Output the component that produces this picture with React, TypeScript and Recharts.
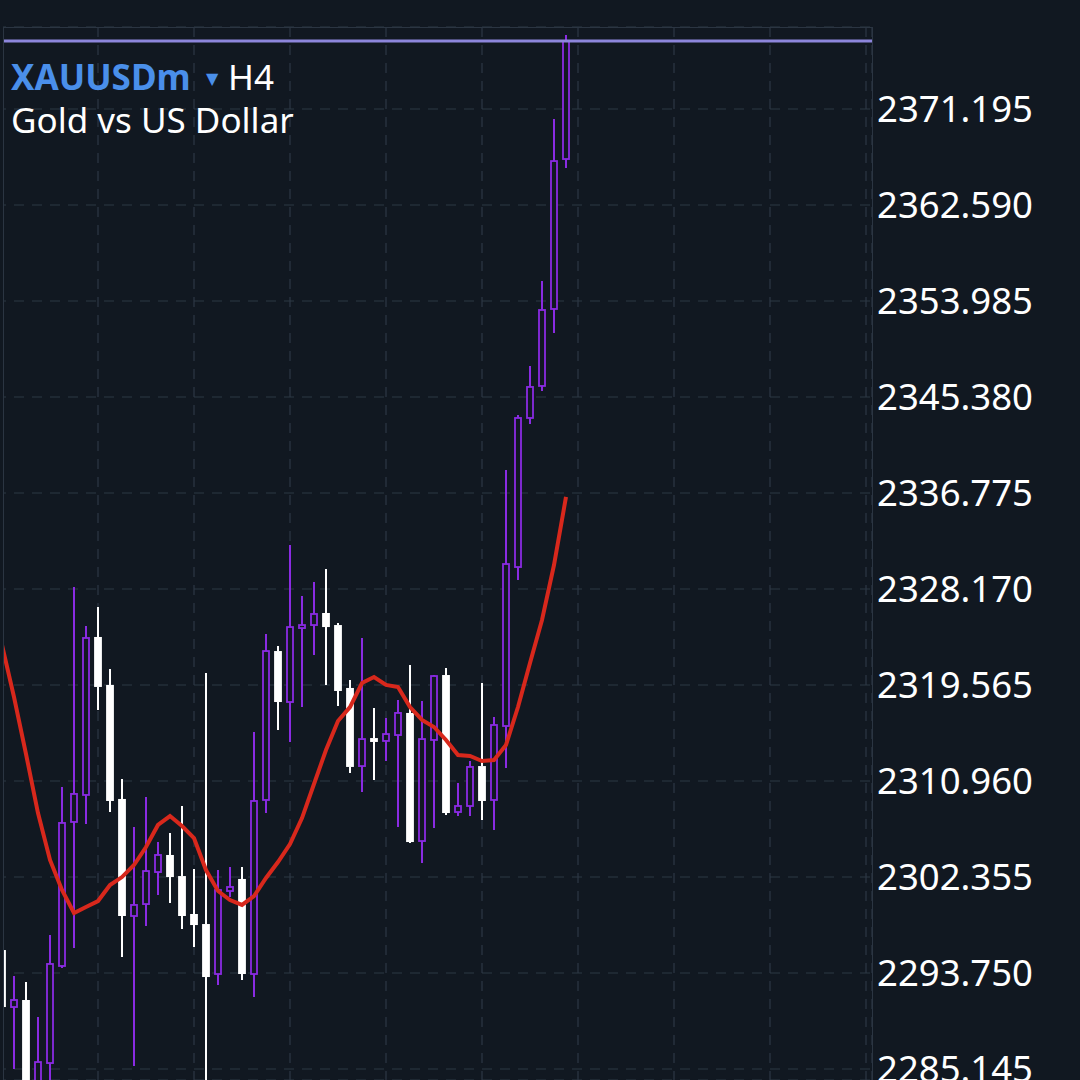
import React from 'react';
import { ComposedChart, Bar, Line, XAxis, YAxis, CartesianGrid, ReferenceLine } from 'recharts';

// Candle values (H4 XAUUSDm)
const opens = [
  2295.81, 2290.70, 2291.33, 2282.60, 2285.68, 2294.38, 2307.29, 2309.71, 2323.87, 2319.57,
  2309.35, 2298.86, 2299.93, 2302.80, 2304.33, 2302.44, 2299.04, 2298.14, 2293.66, 2301.10,
  2302.18, 2293.66, 2309.26, 2322.61, 2318.04, 2324.67, 2324.94, 2326.02, 2324.94, 2319.30,
  2312.30, 2314.81, 2314.55, 2315.08, 2317.06, 2305.58, 2314.64, 2320.46, 2308.18, 2308.72,
  2312.30, 2309.26, 2315.89, 2330.14, 2343.50, 2346.37, 2353.27, 2366.71,
];
const highs = [
  2296.26, 2293.48, 2292.94, 2289.81, 2297.16, 2310.42, 2328.35, 2324.85, 2326.56, 2321.00,
  2311.14, 2306.84, 2309.53, 2305.49, 2306.30, 2308.72, 2303.07, 2320.64, 2302.98, 2303.25,
  2303.25, 2315.35, 2324.14, 2323.06, 2332.11, 2327.54, 2328.80, 2329.96, 2325.12, 2320.01,
  2323.78, 2317.50, 2316.61, 2318.22, 2321.36, 2318.13, 2320.46, 2321.09, 2310.78, 2312.75,
  2319.74, 2316.70, 2338.84, 2343.77, 2348.16, 2355.78, 2370.30, 2377.83,
];
const lows = [
  2289.98, 2285.14, 2282.00, 2281.50, 2283.00, 2294.20, 2295.99, 2307.11, 2317.32, 2308.18,
  2295.18, 2285.41, 2297.96, 2300.74, 2300.02, 2297.69, 2296.08, 2281.00, 2292.67, 2300.56,
  2293.12, 2291.60, 2308.09, 2315.53, 2314.46, 2317.59, 2322.25, 2319.57, 2317.68, 2311.68,
  2309.97, 2311.05, 2312.75, 2306.84, 2305.40, 2303.61, 2306.75, 2307.91, 2307.82, 2307.82,
  2307.46, 2306.57, 2312.13, 2328.98, 2342.96, 2345.92, 2351.12, 2365.91,
];
const closes = [
  2290.70, 2291.33, 2283.50, 2285.77, 2294.56, 2307.20, 2309.80, 2323.78, 2319.39, 2309.17,
  2298.86, 2299.85, 2302.89, 2304.33, 2302.35, 2298.86, 2298.05, 2293.39, 2301.19, 2301.46,
  2293.66, 2309.17, 2322.61, 2318.04, 2324.76, 2324.94, 2325.93, 2324.76, 2319.03, 2312.22,
  2314.72, 2314.46, 2315.17, 2317.06, 2305.49, 2314.72, 2320.37, 2308.09, 2308.72, 2312.22,
  2309.17, 2315.98, 2330.41, 2343.50, 2346.28, 2353.18, 2366.53, 2377.30,
];
// Moving average (red line)
const maValues = [
  2323.15, 2318.49, 2313.38, 2308.09, 2303.88, 2301.19, 2299.13, 2299.67, 2300.20, 2301.64,
  2302.35, 2303.43, 2305.04, 2307.02, 2307.82, 2306.93, 2305.85, 2302.98, 2301.10, 2300.29,
  2299.85, 2300.65, 2302.27, 2303.70, 2305.31, 2307.64, 2310.69, 2313.74, 2316.34, 2317.59,
  2319.74, 2320.28, 2319.57, 2319.39, 2317.59, 2316.43, 2315.80, 2314.64, 2313.29, 2313.20,
  2312.75, 2312.84, 2314.19, 2317.59, 2321.54, 2325.39, 2330.32, 2336.42,
];
const yTicks = [
  2285.145, 2293.75, 2302.355, 2310.96, 2319.565, 2328.17, 2336.775, 2345.38, 2353.985, 2362.59, 2371.195,
];
const currentPrice = 2377.3;
const totalSlots = 73;
const gridSlots = [0, 8, 16, 24, 32, 40, 48, 56, 64, 72];
const priceDomain: [number, number] = [2284.16, 2378.545];

const BG = '#111821';
const BULL = '#8A2BE2';
const BEAR = '#ffffff';

const data = Array.from({ length: totalSlots }, (_, i) =>
  i < opens.length
    ? {
        i,
        range: [lows[i], highs[i]],
        open: opens[i],
        high: highs[i],
        low: lows[i],
        close: closes[i],
        ma: maValues[i],
      }
    : { i, range: null, ma: null }
);

const Candle = (props: any) => {
  const { x, y, width, height, payload } = props;
  if (!payload || payload.high == null || height == null) return null;
  const top = Math.min(y, y + height);
  const bot = Math.max(y, y + height);
  const span = payload.high - payload.low;
  const ppu = span > 0 ? (bot - top) / span : 0;
  const yOf = (v: number) => top + (payload.high - v) * ppu;
  const cx = x + width / 2;
  const bull = payload.close >= payload.open;
  const bodyTop = yOf(Math.max(payload.open, payload.close));
  const bodyBot = yOf(Math.min(payload.open, payload.close));
  const color = bull ? BULL : BEAR;
  return (
    <g>
      <line x1={cx} x2={cx} y1={top} y2={bodyTop} stroke={color} strokeWidth={2} />
      <line x1={cx} x2={cx} y1={bodyBot} y2={bot} stroke={color} strokeWidth={2} />
      {bull ? (
        <rect
          x={cx - 3}
          y={bodyTop}
          width={6}
          height={Math.max(bodyBot - bodyTop, 1)}
          fill={BG}
          stroke={BULL}
          strokeWidth={1.8}
        />
      ) : (
        <rect x={cx - 3.9} y={bodyTop} width={7.8} height={Math.max(bodyBot - bodyTop, 1.5)} fill={BEAR} />
      )}
    </g>
  );
};

const FONT = '"Noto Sans", Roboto, "DejaVu Sans", sans-serif';

export default function App() {
  return (
    <div
      style={{
        position: 'absolute',
        left: 0,
        top: 0,
        width: 1080,
        height: 1080,
        overflow: 'hidden',
        background: BG,
      }}
    >
      <div style={{ position: 'absolute', left: 3, top: 0, width: 1077, height: 1080, overflow: 'hidden' }}>
        <div style={{ position: 'absolute', left: -7, top: 0 }}>
          <ComposedChart
            width={1084}
            height={1080}
            data={data}
            margin={{ top: 27, right: 0, bottom: 0, left: 0 }}
          >
            <CartesianGrid stroke="#2d3845" strokeDasharray="10 8" strokeWidth={1.2} />
            <XAxis dataKey="i" type="category" hide ticks={gridSlots} interval={0} />
            <YAxis
              orientation="right"
              width={208}
              domain={priceDomain}
              allowDataOverflow
              ticks={yTicks}
              interval={0}
              axisLine={false}
              tickLine={false}
              tickSize={0}
              tickMargin={5}
              tickFormatter={(v: number) => v.toFixed(3)}
              tick={{ fill: '#ffffff', fontSize: 36.5, fontFamily: FONT }}
            />
            <ReferenceLine y={currentPrice} stroke="#8d86dc" strokeWidth={3} ifOverflow="extendDomain" />
            <Bar dataKey="range" barSize={8} shape={Candle} isAnimationActive={false} />
            <Line
              dataKey="ma"
              type="linear"
              stroke="#d8281c"
              strokeWidth={4}
              dot={false}
              activeDot={false}
              isAnimationActive={false}
            />
          </ComposedChart>
        </div>
      </div>
      <div
        style={{
          position: 'absolute',
          left: 3,
          top: 27,
          width: 868,
          height: 1100,
          borderLeft: '1px solid #2b3542',
          borderTop: '1px solid #2b3542',
          borderRight: '1px solid #2b3542',
          pointerEvents: 'none',
        }}
      />
      <svg width={400} height={150} style={{ position: 'absolute', left: 0, top: 0 }}>
        <text x={11} y={90} fontFamily={FONT} fontSize={35} fontWeight={700} fill="#4a8fea">
          XAUUSDm
        </text>
        <text x={206} y={84} fontFamily='"DejaVu Sans", sans-serif' fontSize={16} fill="#4a8fea">
          ▼
        </text>
        <text x={228} y={90} fontFamily={FONT} fontSize={35} fill="#ffffff">
          H4
        </text>
        <text x={11} y={133} fontFamily={FONT} fontSize={35} fill="#ffffff">
          Gold vs US Dollar
        </text>
      </svg>
    </div>
  );
}
